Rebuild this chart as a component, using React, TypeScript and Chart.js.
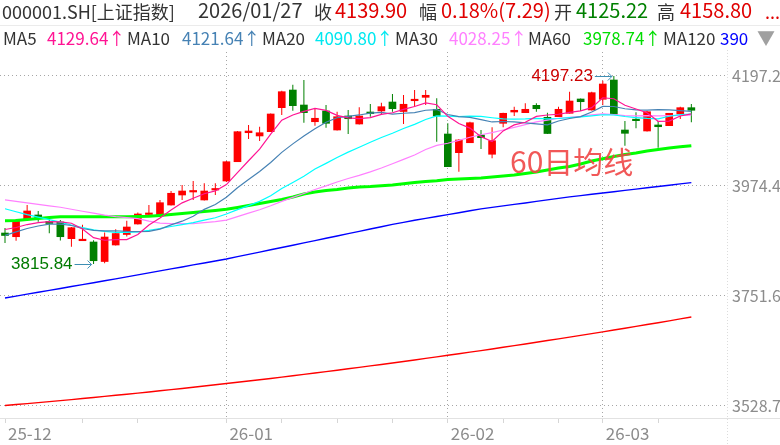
import { useEffect, useRef } from "react";
import { Chart, registerables } from "chart.js";

Chart.register(...registerables);

// ---- data ----
const opens = [3878.8, 3871.3, 3907.2, 3915.4, 3902.2, 3901.2, 3867.3, 3863.2, 3860.6, 3821.0,
  3854.5, 3875.8, 3897.1, 3916.4, 3915.4, 3935.6, 3955.9, 3962.0, 3945.8, 3966.0,
  3984.3, 4023.4, 4082.2, 4075.6, 4084.3, 4133.0, 4168.8, 4138.4, 4104.5, 4126.3,
  4087.7, 4116.1, 4099.9, 4124.2, 4126.3, 4144.5, 4125.22, 4147.1, 4154.0, 4129.7,
  4079.6, 4041.7, 4061.9, 4077.6, 4038.5, 4101.3, 4124.2, 4122.8, 4137.8, 4113.5,
  4114.7, 4121.6, 4150.6, 4128.3, 4150.0, 4189.1, 4087.7, 4109.4, 4085.7, 4097.9,
  4096.5, 4120.2, 4133.0];
const highs = [3889.0, 3907.2, 3935.6, 3923.5, 3907.2, 3905.2, 3891.0, 3895.7, 3864.0, 3879.8,
  3886.3, 3903.8, 3920.4, 3935.6, 3945.8, 3964.0, 3976.2, 3984.3, 3979.6, 3979.6,
  4024.9, 4085.7, 4097.9, 4094.4, 4121.2, 4167.4, 4179.6, 4189.1, 4131.7, 4138.4,
  4124.8, 4128.3, 4133.8, 4140.5, 4143.1, 4160.7, 4158.80, 4168.8, 4168.8, 4152.0,
  4101.3, 4069.5, 4104.5, 4087.7, 4093.2, 4122.8, 4135.0, 4141.9, 4141.9, 4122.8,
  4135.0, 4165.4, 4151.6, 4165.4, 4187.7, 4197.23, 4106.0, 4123.6, 4126.3, 4106.0,
  4122.2, 4135.0, 4140.5];
const lows = [3858.6, 3863.2, 3906.2, 3901.8, 3878.2, 3863.6, 3851.1, 3862.6, 3815.84, 3817.5,
  3853.5, 3871.7, 3896.1, 3911.9, 3911.9, 3934.6, 3945.8, 3945.8, 3944.8, 3955.9,
  3982.3, 4022.8, 4069.5, 4065.4, 4083.7, 4118.2, 4126.9, 4102.5, 4096.5, 4092.4,
  4086.7, 4079.6, 4098.9, 4114.7, 4118.2, 4124.8, 4099.9, 4135.0, 4138.4, 4064.0,
  4012.7, 4003.2, 4061.3, 4049.2, 4030.3, 4093.2, 4116.1, 4122.2, 4124.8, 4079.6,
  4114.1, 4121.2, 4126.3, 4127.3, 4138.4, 4119.2, 4055.9, 4091.2, 4084.7, 4051.8,
  4095.8, 4110.0, 4103.3];
const closes = [3873.8, 3903.2, 3923.5, 3910.3, 3898.1, 3871.3, 3889.6, 3866.1, 3822.6, 3870.7,
  3877.8, 3891.0, 3917.4, 3918.8, 3940.3, 3959.4, 3964.0, 3964.6, 3964.0, 3969.1,
  4023.4, 4084.3, 4085.7, 4082.2, 4120.2, 4165.4, 4137.0, 4122.8, 4111.5, 4101.3,
  4114.7, 4110.6, 4116.1, 4120.8, 4135.0, 4130.9, 4139.90, 4150.0, 4158.1, 4116.1,
  4013.3, 4067.5, 4102.5, 4072.1, 4066.0, 4121.6, 4127.7, 4129.7, 4130.9, 4080.6,
  4129.7, 4146.5, 4145.1, 4163.4, 4181.0, 4119.6, 4081.0, 4106.6, 4124.8, 4094.4,
  4121.6, 4133.0, 4127.7];

const ma5 = [3886, 3890, 3896, 3900, 3901.8, 3901.3, 3898.6, 3887.1, 3869.5, 3864.1,
  3865.4, 3865.6, 3875.9, 3895.1, 3909.1, 3925.4, 3940.0, 3949.4, 3958.5, 3964.2,
  3977.0, 4001.1, 4025.3, 4048.9, 4079.2, 4107.6, 4118.1, 4125.5, 4131.4, 4127.6,
  4117.5, 4112.2, 4110.8, 4112.7, 4119.4, 4122.7, 4129.64, 4135.3, 4142.8, 4139.0,
  4115.5, 4101.0, 4091.5, 4074.3, 4064.3, 4085.9, 4098.0, 4103.4, 4115.2, 4118.1,
  4119.7, 4123.5, 4126.6, 4133.1, 4153.1, 4151.1, 4138.0, 4130.3, 4122.6, 4105.3,
  4105.7, 4116.1, 4120.3];
const ma10 = [3874, 3881, 3888, 3893, 3897, 3897, 3894, 3888, 3884, 3883.0,
  3883.4, 3882.1, 3881.5, 3882.3, 3886.6, 3895.4, 3902.8, 3912.7, 3926.8, 3936.7,
  3951.2, 3970.6, 3987.4, 4003.7, 4021.7, 4042.3, 4059.6, 4075.4, 4090.2, 4103.4,
  4112.6, 4115.2, 4118.2, 4122.1, 4123.5, 4120.1, 4121.64, 4123.1, 4127.8, 4129.2,
  4119.1, 4114.8, 4113.4, 4108.6, 4104.0, 4105.0, 4104.0, 4102.0, 4100.0, 4098.0,
  4106.0, 4111.0, 4115.0, 4124.2, 4135.6, 4135.4, 4130.8, 4128.5, 4127.9, 4129.2,
  4128.4, 4127.1, 4125.3];
const ma20 = [3928, 3922, 3916, 3911, 3906, 3901, 3895, 3890, 3885, 3882,
  3880, 3880, 3881, 3884, 3888, 3892, 3896, 3900, 3905, 3909.8,
  3917.3, 3926.3, 3934.4, 3943.0, 3954.2, 3968.9, 3981.2, 3994.0, 4008.5, 4020.0,
  4031.9, 4042.9, 4052.8, 4062.9, 4072.6, 4081.2, 4090.80, 4099.2, 4109.0, 4116.3,
  4115.8, 4115.0, 4115.8, 4115.3, 4112.6, 4110.4, 4109.9, 4110.3, 4111.3, 4110.2,
  4111.0, 4112.8, 4114.2, 4116.4, 4118.6, 4118.1, 4115.1, 4113.0, 4111.3, 4110.2,
  4115.6, 4118.9, 4120.2];
const ma30 = [3946, 3943, 3940, 3937, 3934, 3931, 3927, 3923, 3919, 3915,
  3912, 3910, 3908, 3903, 3899, 3898, 3898, 3898, 3900, 3902,
  3905, 3912, 3919, 3926, 3934, 3943, 3951, 3959, 3967, 3974.3,
  3982.3, 3989.3, 3995.7, 4002.7, 4010.6, 4019.2, 4028.25, 4037.1, 4048.2, 4056.4,
  4060.9, 4066.8, 4073.0, 4078.1, 4082.3, 4087.7, 4093.1, 4098.7, 4104.2, 4107.9,
  4111.5, 4113.5, 4115.5, 4118.2, 4120.3, 4118.7, 4116.9, 4116.3, 4116.8, 4116.5,
  4116.8, 4117.5, 4117.9];
const ma60 = [3903.8, 3904.2, 3906.2, 3908.2, 3910.3, 3911.7, 3911.9, 3911.9, 3911.8, 3911.9,
  3912.0, 3912.0, 3912.2, 3912.7, 3914.3, 3916.3, 3918.4, 3920.4, 3922.4, 3924.5,
  3926.9, 3930.5, 3934.6, 3938.6, 3942.7, 3946.8, 3951.8, 3958.0, 3962.0, 3965.0,
  3967.0, 3970.0, 3972.1, 3973.1, 3974.8, 3976.2, 3978.74, 3981.2, 3983.3, 3984.9,
  3987.3, 3988.3, 3989.3, 3990.4, 3992.4, 3994.4, 3996.5, 3999.5, 4002.5, 4006.6,
  4010.7, 4013.7, 4018.8, 4024.8, 4029.5, 4034.0, 4038.0, 4041.1, 4045.1, 4048.2,
  4051.2, 4053.6, 4055.9];
const ma120 = [3747.0, 3750.9, 3754.8, 3758.6, 3762.5, 3766.4, 3770.3, 3774.1, 3778.0, 3781.9,
  3785.9, 3789.9, 3793.9, 3797.9, 3802.0, 3806.0, 3810.0, 3814.1, 3818.1, 3822.1,
  3826.1, 3830.8, 3835.5, 3840.1, 3844.8, 3849.5, 3854.1, 3858.8, 3863.5, 3868.1,
  3872.8, 3877.5, 3882.2, 3886.9, 3891.5, 3896.2, 3900.5, 3904.6, 3908.5, 3912.3,
  3916.2, 3920.0, 3923.9, 3927.7, 3930.7, 3933.8, 3936.8, 3939.7, 3942.9, 3946.0,
  3949.0, 3952.1, 3954.7, 3957.3, 3959.9, 3962.6, 3965.2, 3967.9, 3970.5, 3973.1,
  3975.8, 3978.4, 3981.0];
const ma250 = [3529.0, 3530.9, 3532.9, 3534.9, 3536.9, 3538.9, 3541.0, 3543.1, 3545.3, 3547.5,
  3549.7, 3551.9, 3554.2, 3556.5, 3558.8, 3561.2, 3563.6, 3566.0, 3568.5, 3571.0,
  3573.5, 3576.1, 3578.7, 3581.3, 3583.9, 3586.6, 3589.3, 3592.1, 3594.9, 3597.7,
  3600.5, 3603.4, 3606.3, 3609.3, 3612.2, 3615.3, 3618.3, 3621.4, 3624.5, 3627.6,
  3630.8, 3634.0, 3637.2, 3640.4, 3643.7, 3647.1, 3650.4, 3653.8, 3657.2, 3660.7,
  3664.2, 3667.7, 3671.2, 3674.8, 3678.4, 3682.1, 3685.7, 3689.4, 3693.2, 3696.9,
  3700.7, 3704.6, 3708.4];

const yTicks = [4197.23, 3974.42, 3751.6, 3528.79];
const monthTicks = [0, 20, 40, 54];
const monthLabels = ["25-12", "26-01", "26-02", "26-03"];
const weekTicks = [7, 12, 25, 30, 35, 45, 50, 59];
const highMark = { index: 55, value: 4197.23 };
const lowMark = { index: 8, value: 3815.84 };
const maNote = { text: "60日均线", index: 45.62, value: 4023.8 };

const FONT = '"Noto Sans CJK SC", "Noto Sans", sans-serif';

const header1: [string, number, string, number][] = [
  ["000001.SH[上证指数]", 2, "#333", 18],
  ["2026/01/27", 198, "#333", 20],
  ["收", 314, "#333", 18],
  ["4139.90", 335, "#e00000", 20],
  ["幅", 419, "#333", 18],
  ["0.18%(7.29)", 441, "#e00000", 20],
  ["开", 554, "#333", 18],
  ["4125.22", 576, "#008000", 20],
  ["高", 657, "#333", 18],
  ["4158.80", 680, "#e00000", 20],
  ["...", 765, "#e00000", 18],
];
const header2: [string, number, string, number][] = [
  ["MA5", 3, "#333", 17],
  ["4129.64↑", 47, "#ff1493", 17],
  ["MA10", 127, "#333", 17],
  ["4121.64↑", 182, "#4682b4", 17],
  ["MA20", 262, "#333", 17],
  ["4090.80↑", 315, "#00e8f0", 17],
  ["MA30", 395, "#333", 17],
  ["4028.25↑", 449, "#ff80ff", 17],
  ["MA60", 528, "#333", 17],
  ["3978.74↑", 583, "#00dd00", 17],
  ["MA120", 663, "#333", 17],
  ["390", 720, "#0000ff", 17],
  ["▼", 757, "#a0a0a0", 18],
];

const annotPlugin = {
  id: "annot",
  afterDatasetsDraw(chart: any) {
    const { ctx, scales, chartArea } = chart;
    const x = scales.x, y = scales.y;
    ctx.save();
    // 60日均线 note
    ctx.font = `30px ${FONT}`;
    ctx.fillStyle = "rgba(240,70,70,0.9)";
    ctx.textAlign = "left";
    ctx.textBaseline = "middle";
    ctx.fillText(maNote.text, x.getPixelForValue(maNote.index), y.getPixelForValue(maNote.value));

    const drawMark = (m: { index: number; value: number }, color: string) => {
      const px = x.getPixelForValue(m.index);
      const py = Math.round(y.getPixelForValue(m.value)) + 0.5;
      ctx.font = '17px "Liberation Sans", Arial, sans-serif';
      ctx.fillStyle = color;
      ctx.textAlign = "right";
      ctx.textBaseline = "middle";
      ctx.fillText(m.value.toFixed(2), px - 21, py);
      ctx.strokeStyle = "#3d8fb4";
      ctx.lineWidth = 1;
      ctx.beginPath();
      ctx.moveTo(px - 19, py);
      ctx.lineTo(px - 2, py);
      ctx.stroke();
      ctx.beginPath();
      ctx.moveTo(px - 6, py - 4);
      ctx.lineTo(px - 2, py);
      ctx.lineTo(px - 6, py + 4);
      ctx.stroke();
    };
    drawMark(highMark, "#cc0000");
    drawMark(lowMark, "#007a00");
    ctx.restore();

    // frame lines
    ctx.save();
    ctx.strokeStyle = "#dcdcdc";
    ctx.lineWidth = 1;
    ctx.setLineDash([1, 2]);
    ctx.beginPath();
    ctx.moveTo(Math.round(chartArea.right) + 0.5, 50);
    ctx.lineTo(Math.round(chartArea.right) + 0.5, 445);
    ctx.stroke();
    ctx.setLineDash([]);
    ctx.strokeStyle = "#e2e2e2";
    ctx.beginPath();
    ctx.moveTo(0, Math.round(chartArea.bottom) + 0.5);
    ctx.lineTo(780, Math.round(chartArea.bottom) + 0.5);
    ctx.stroke();
    ctx.restore();
  },
};

export default function App() {
  const ref = useRef<HTMLCanvasElement>(null);
  useEffect(() => {
    document.body.style.margin = "0";
    const canvas = ref.current!;
    const colors = closes.map((c, i) => (c >= opens[i] ? "#ff0000" : "#008000"));
    const idx = closes.map((_, i) => i);
    const line = (vals: number[], color: string, width: number, order: number) => ({
      type: "line" as const,
      data: vals.map((v, i) => ({ x: i, y: v })),
      borderColor: color,
      backgroundColor: color,
      borderWidth: width,
      pointRadius: 0,
      tension: 0,
      fill: false,
      order,
    });
    const chart = new Chart(canvas, {
      type: "bar",
      plugins: [annotPlugin],
      data: {
        datasets: [
          line(ma5, "#ff1493", 1.2, 0),
          line(ma10, "#4682b4", 1.2, 0.1),
          line(ma20, "#00ffff", 1.2, 0.2),
          line(ma30, "#ff80ff", 1.2, 0.3),
          line(ma60, "#00ff00", 3, 0.4),
          line(ma120, "#0000ff", 1.4, 0.5),
          line(ma250, "#ff0000", 1.4, 0.6),
          {
            type: "bar",
            data: idx.map((i) => ({ x: i, y: [opens[i], closes[i]] })),
            backgroundColor: colors,
            borderWidth: 0,
            barThickness: 7,
            minBarLength: 1.5,
            grouped: false,
            order: 2,
          } as any,
          {
            type: "bar",
            data: idx.map((i) => ({ x: i, y: [lows[i], highs[i]] })),
            backgroundColor: colors,
            borderWidth: 0,
            barThickness: 1,
            inflateAmount: 0,
            grouped: false,
            order: 3,
          } as any,
        ],
      },
      options: {
        animation: false,
        responsive: false,
        events: [],
        layout: { padding: { top: 52, left: 0, right: 0, bottom: 0 } },
        plugins: { legend: { display: false }, tooltip: { enabled: false } },
        scales: {
          x: {
            type: "linear",
            offset: false,
            min: -0.4517,
            max: 65.221,
            afterBuildTicks: (s: any) => {
              s.ticks = [...monthTicks, ...weekTicks].sort((a, b) => a - b).map((v) => ({ value: v }));
            },
            afterFit: (s: any) => {
              s.height = 27;
            },
            ticks: {
              autoSkip: false,
              maxRotation: 0,
              align: "start",
              labelOffset: 3,
              padding: 0,
              color: "#8c8c8c",
              font: { family: FONT, size: 17 },
              callback: (v: any) => {
                const k = monthTicks.indexOf(Number(v));
                return k >= 0 ? monthLabels[k] : "";
              },
            },
            grid: {
              offset: false,
              color: (c: any) =>
                c.tick && c.tick.value !== 0 && monthTicks.includes(c.tick.value) ? "#a6a6a6" : "rgba(0,0,0,0)",
              tickColor: "#d6d6d6",
              tickLength: 5,
              lineWidth: 1,
            },
            border: { display: false, dash: [1, 3] },
          },
          y: {
            type: "linear",
            position: "right",
            min: 3503.66,
            max: 4245.9,
            afterBuildTicks: (s: any) => {
              s.ticks = yTicks.map((v) => ({ value: v }));
            },
            afterFit: (s: any) => {
              s.width = 53;
            },
            ticks: {
              padding: 5,
              color: "#8c8c8c",
              font: { family: FONT, size: 16 },
              callback: (v: any) => Number(v).toFixed(2),
            },
            grid: { color: "#a6a6a6", drawTicks: false, lineWidth: 1 },
            border: { display: false, dash: [1, 3] },
          },
        },
      } as any,
    });
    return () => chart.destroy();
  }, []);

  const span = (t: [string, number, string, number], top: number, k: string) => (
    <span
      key={k}
      style={{
        position: "absolute",
        left: t[1],
        top: top - (t[3] - 18) * 0.95,
        color: t[2],
        fontSize: t[3],
        lineHeight: t[3] + "px",
        whiteSpace: "nowrap",
        fontFamily: FONT,
      }}
    >
      {t[0]}
    </span>
  );

  return (
    <div style={{ position: "relative", width: 780, height: 445, overflow: "hidden", background: "#fff" }}>
      <canvas ref={ref} width={780} height={445} style={{ display: "block", position: "absolute", left: 0, top: 0 }} />
      {header1.map((t, i) => span(t, 2, "a" + i))}
      <div style={{ position: "absolute", left: 0, top: 25, width: 780, height: 1, background: "#ebebeb" }} />
      {header2.map((t, i) => span(t, 28, "b" + i))}
    </div>
  );
}
